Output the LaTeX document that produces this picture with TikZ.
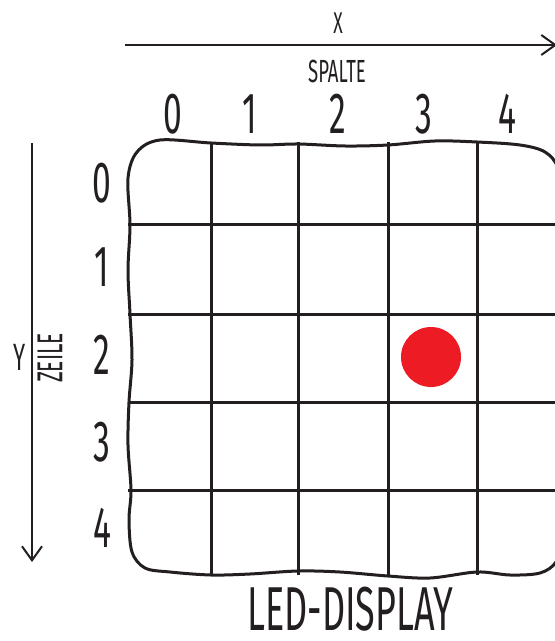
\documentclass[tikz,border=0pt]{standalone}
\usepackage{fontspec}
\newfontfamily\handfont{Fira Sans}[FakeStretch=0.58]
\usepackage{tikz}
\usetikzlibrary{arrows.meta}
\definecolor{InkBlack}{RGB}{35,31,32}
\definecolor{LedRed}{RGB}{237,28,36}

\begin{document}
\begin{tikzpicture}[x=0.5pt,y=-0.5pt,
lbl/.style={font=\handfont\fontsize{16}{16}\selectfont,inner sep=0pt,text=InkBlack},
num/.style={font=\handfont\fontsize{29}{29}\selectfont,inner sep=0pt,text=InkBlack},
gridline/.style={draw=InkBlack,line width=1.5pt},
board/.style={draw=InkBlack,line width=1.5pt},
axis/.style={-{Straight Barb[length=7pt,width=10pt]},draw=InkBlack,line width=1pt}]
\useasboundingbox (0,0) rectangle (554,641);
% grid
\foreach \gx in {211,298,388,477} \draw[gridline] (\gx,142) -- (\gx,575);
\foreach \gy in {225,314,402,490} \draw[gridline] (128,\gy) -- (562,\gy);
% wobbly display frame
\draw[board] plot[smooth cycle,tension=0.55] coordinates {
(128,178) (137,152) (160,140) (211,143) (260,145) (298,144) (345,146) (388,145)
(435,141) (477,142) (520,145) (545,152) (558,168) (562,200) (562,540) (556,562)
(540,573) (510,575) (477,572) (430,578) (388,576) (340,572) (298,571) (250,574)
(211,575) (170,572) (145,568) (132,552) (129,520) (131,490) (128,445) (129,402)
(132,360) (130,314) (128,270) (130,225)};
% LED
\fill[LedRed] (431,357) circle[radius=30];
% axes
\coordinate (xs) at (125,45); \coordinate (xe) at (557,45);
\coordinate (ys) at (32,143); \coordinate (ye) at (32,562);
\draw[axis] (xs) -- (xe);
\draw[axis] (ys) -- (ye);
\node[lbl,font=\handfont\fontsize{15}{15}\selectfont] (xlab) at (338,23) {X};
\node[lbl] (spalte) at (337,71) {SPALTE};
\node[lbl,font=\handfont\fontsize{19}{19}\selectfont] (ylab) at (20,357) {Y};
\node[lbl,font=\handfont\fontsize{18}{18}\selectfont,rotate=90] (zeile) at (50,358) {ZEILE};
% numbers
\foreach \c/\cx in {0/173,1/250,2/338,3/424,4/507} \node[num] (col\c) at (\cx,114) {\c};
\foreach \r/\ry in {0/183,1/267,2/355,3/442,4/528} \node[num] (row\r) at (102,\ry) {\r};
\node[num,font=\handfont\fontsize{31}{31}\selectfont,anchor=base] (title) at (350,630) {LED-DISPLAY};
\end{tikzpicture}
\end{document}
